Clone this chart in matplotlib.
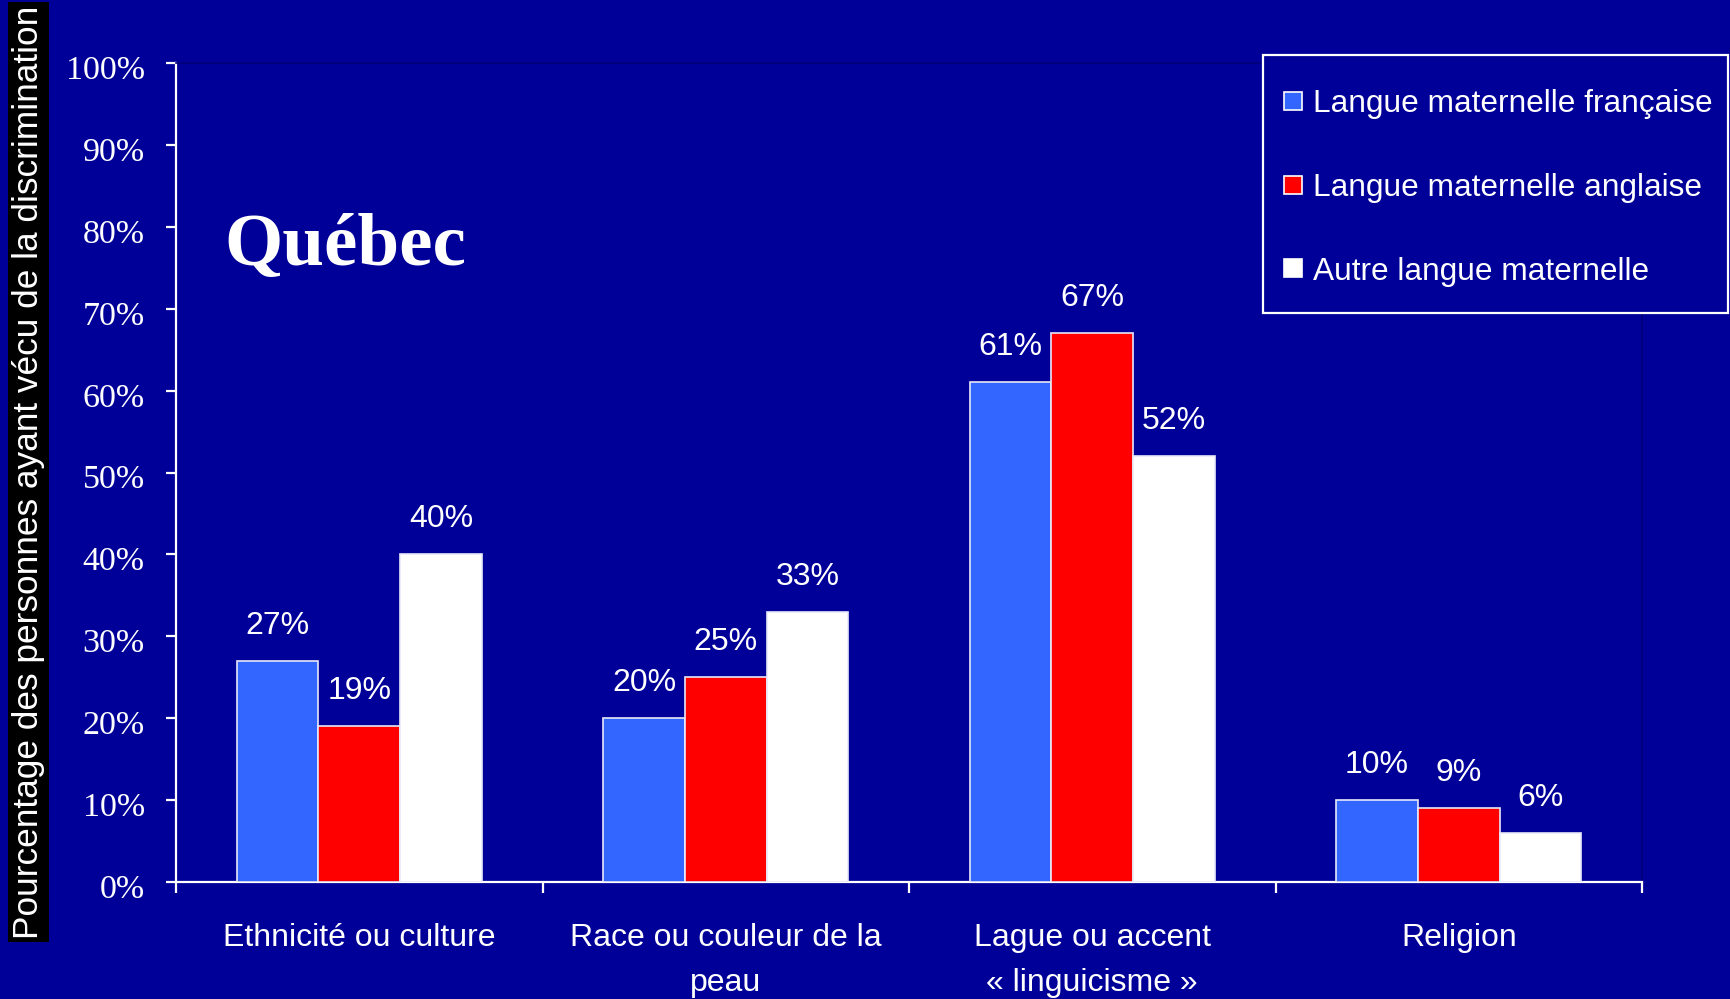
import matplotlib
matplotlib.use("Agg")
import matplotlib.pyplot as plt
from matplotlib.lines import Line2D
from matplotlib.patches import Rectangle
from matplotlib.transforms import ScaledTranslation, blended_transform_factory
import numpy as np

# ---- data ----
categories = ["Ethnicité ou culture", "Race ou couleur de la\npeau",
              "Lague ou accent\n« linguicisme »", "Religion"]
series_names = ["Langue maternelle française", "Langue maternelle anglaise",
                "Autre langue maternelle"]
francais = [27, 20, 61, 10]
anglais = [19, 25, 67, 9]
autre = [40, 33, 52, 6]
yticks = [0, 10, 20, 30, 40, 50, 60, 70, 80, 90, 100]
ytick_labels = [f"{v}%" for v in yticks]
title = "Québec"
ylabel = "Pourcentage des personnes ayant vécu de la discrimination"

# ---- style ----
BG = "#000099"
colors = ["#3366FF", "#FF0000", "#FFFFFF"]
sans = ["Liberation Sans", "DejaVu Sans"]
serif = ["Liberation Serif", "DejaVu Serif"]

W, H = 1730, 999
fig = plt.figure(figsize=(W / 100, H / 100), dpi=100, facecolor=BG)
ax = fig.add_axes([176 / W, 1 - 882 / H, (1642 - 176) / W, (882 - 63) / H])
ax.set_facecolor(BG)

x = np.arange(len(categories))
bw = 0.223
all_series = [francais, anglais, autre]
for k, (vals, col) in enumerate(zip(all_series, colors)):
    pos = x + (k - 1) * bw
    bars = ax.bar(pos, vals, width=bw, color=col, edgecolor="#E8E8F8",
                  linewidth=1.2, zorder=3)
    for b, v in zip(bars, vals):
        ax.annotate(f"{v}%", (b.get_x() + b.get_width() / 2, b.get_height()),
                    xytext=(0, 19.5), textcoords="offset points",
                    ha="center", va="baseline", color="white",
                    fontsize=23, family=sans)

ax.set_xlim(-0.5, len(categories) - 0.5)
ax.set_ylim(0, 100)

# y axis
ax.set_yticks(yticks)
ax.set_yticklabels(ytick_labels, family=serif, fontsize=24.5, color="white")
ax.tick_params(axis="y", which="major", direction="out", length=7.5,
               width=1.6, color="white", pad=15)
shift = ScaledTranslation(0, -3 / 72, fig.dpi_scale_trans)
for lbl in ax.get_yticklabels():
    lbl.set_transform(lbl.get_transform() + shift)

# x axis: boundary ticks + category labels as text
ax.set_xticks(np.arange(len(categories) + 1) - 0.5)
ax.set_xticklabels([])
ax.tick_params(axis="x", which="major", direction="out", length=8,
               width=1.6, color="white")
trans = blended_transform_factory(ax.transData, ax.transAxes)
for xi, cat in zip(x, categories):
    ax.annotate(cat, (xi, 0), xycoords=trans, xytext=(0, -29.5),
                textcoords="offset points", ha="center", va="top",
                family=sans, fontsize=23, color="white", linespacing=1.65,
                annotation_clip=False)

for s in ["left", "bottom"]:
    ax.spines[s].set_color("white")
    ax.spines[s].set_linewidth(1.6)
for s in ["top", "right"]:
    ax.spines[s].set_color("#00007A")
    ax.spines[s].set_linewidth(1.2)

# title
fig.text(224 / W, 1 - 265 / H, title, family=serif, fontweight="bold",
         fontsize=54, color="white", ha="left", va="baseline")

# y label in black box
fig.text(28.5 / W, 1 - 472 / H, ylabel, rotation=90, ha="center",
         va="center", family=sans, fontsize=25.4, color="white",
         bbox=dict(facecolor="black", edgecolor="none",
                   boxstyle="square,pad=0.1"))

# legend frame + legend
frame = Rectangle((1263 / W, 1 - 313 / H), (1728 - 1263) / W, (313 - 55) / H,
                  transform=fig.transFigure, facecolor=BG, edgecolor="white",
                  linewidth=1.6, zorder=4)
fig.add_artist(frame)
handles = [Line2D([], [], linestyle="none", marker="s", markersize=13,
                  markerfacecolor=c, markeredgecolor="white",
                  markeredgewidth=1.2) for c in colors]
leg = fig.legend(handles, series_names, loc="center left",
                 bbox_to_anchor=(1283 / W, 1 - 188 / H),
                 bbox_transform=fig.transFigure, borderaxespad=0,
                 borderpad=0, frameon=False,
                 prop={"family": sans, "size": 22.8}, labelcolor="white",
                 handlelength=0.6, handletextpad=0.34, labelspacing=1.69)
leg.set_zorder(6)

fig.savefig("out.png", dpi=100, facecolor=BG)
